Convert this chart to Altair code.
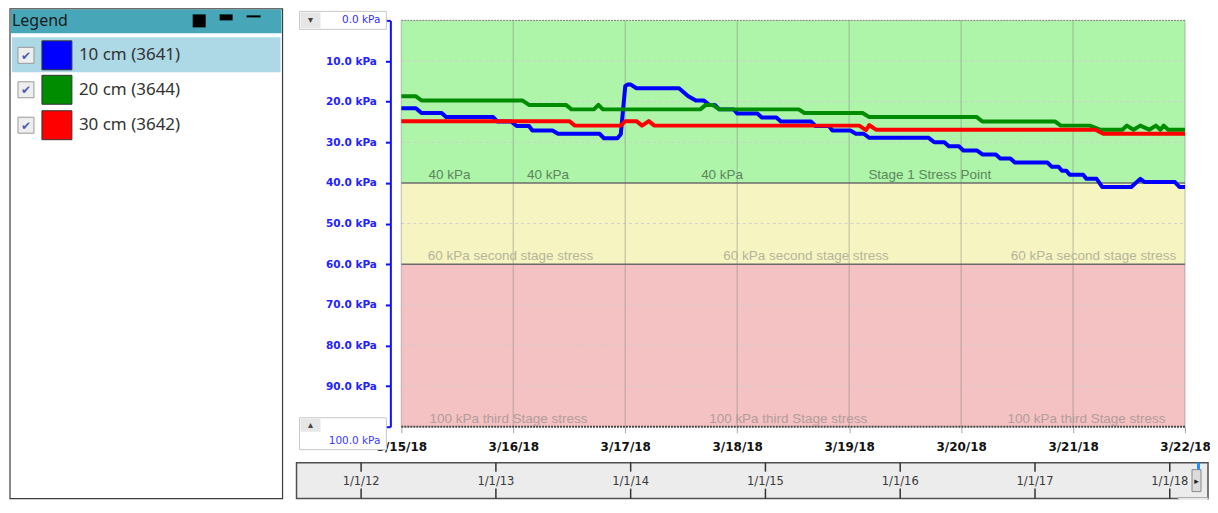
import altair as alt
import pandas as pd

start = pd.Timestamp("2018-03-15")

# ---------------- data ----------------
series_names = ["10 cm (3641)", "20 cm (3644)", "30 cm (3642)"]
series_colors = ["#0000ff", "#008c00", "#ff0000"]

blue_days = [0, 0.13, 0.18, 0.36, 0.40, 0.82, 0.86, 0.98, 1.03, 1.14, 1.17, 1.35, 1.40, 1.77,
             1.81, 1.93, 1.96, 2.00, 2.02, 2.05, 2.10, 2.48, 2.56, 2.63, 2.70, 2.75, 2.80,
             2.84, 2.97, 3.00, 3.18, 3.22, 3.35, 3.39, 3.66, 3.70, 3.82, 3.85, 4.01, 4.06,
             4.13, 4.18, 4.71, 4.76, 4.85, 4.89, 4.98, 5.02, 5.14, 5.19, 5.31, 5.35, 5.44,
             5.48, 5.77, 5.81, 5.87, 5.90, 5.94, 5.97, 6.09, 6.12, 6.21, 6.26, 6.52, 6.60,
             6.64, 6.91, 6.95, 7.0]
blue_kpa = [21.6, 21.6, 22.8, 22.8, 23.8, 23.8, 24.9, 24.9, 26.0, 26.0, 27.1, 27.1, 27.9, 27.9,
            29.0, 29.0, 28.0, 16.2, 15.8, 15.8, 16.7, 16.7, 18.6, 19.7, 19.7, 20.8, 20.8,
            21.9, 21.9, 22.9, 22.9, 23.9, 23.9, 24.9, 24.9, 26.0, 26.0, 27.1, 27.1, 27.9,
            27.9, 28.9, 28.9, 30.0, 30.0, 31.0, 31.0, 32.0, 32.0, 33.0, 33.0, 34.0, 34.0,
            35.0, 35.0, 36.0, 36.0, 37.0, 37.0, 38.0, 38.0, 39.0, 39.0, 41.0, 41.0, 39.0,
            39.8, 39.8, 41.0, 41.0]

green_days = [0, 0.13, 0.18, 1.08, 1.14, 1.47, 1.52, 1.72, 1.76, 1.80, 2.67, 2.72, 2.78, 2.84,
              3.55, 3.60, 4.12, 4.18, 5.14, 5.19, 5.84, 5.89, 6.15, 6.24, 6.44, 6.48, 6.54,
              6.60, 6.68, 6.74, 6.78, 6.81, 6.85, 7.0]
green_kpa = [18.7, 18.7, 19.7, 19.7, 20.8, 20.8, 21.9, 21.9, 20.8, 21.9, 21.9, 20.8, 20.8, 21.9,
             21.9, 22.8, 22.8, 23.8, 23.8, 24.9, 24.9, 25.9, 25.9, 26.9, 26.9, 25.9, 26.9,
             25.9, 26.9, 25.9, 26.9, 25.9, 26.9, 26.9]

red_days = [0, 1.50, 1.55, 1.96, 2.00, 2.10, 2.15, 2.21, 2.26, 4.09, 4.15, 4.18, 4.24, 6.20,
            6.27, 7.0]
red_kpa = [24.8, 24.8, 25.9, 25.9, 24.8, 24.8, 25.9, 24.8, 25.9, 25.9, 27.0, 25.8, 26.9, 26.9,
           27.9, 27.9]

zone_lo = [0, 40, 60]
zone_hi = [40, 60, 100]
zone_colors = ["#aef5aa", "#f6f5c1", "#f4c2c2"]

grid_kpa = [10, 20, 30, 50, 70, 80, 90]
grid_days = [0, 1, 2, 3, 4, 5, 6, 7]

zl_text = ["40 kPa", "40 kPa", "40 kPa", "Stage 1 Stress Point",
           "60 kPa second stage stress", "60 kPa second stage stress", "60 kPa second stage stress",
           "100 kPa third Stage stress", "100 kPa third Stage stress", "100 kPa third Stage stress"]
zl_days = [0.43, 1.31, 2.865, 4.72, 0.975, 3.615, 6.183, 0.957, 3.455, 6.12]
zl_kpa = [40, 40, 40, 40, 60, 60, 60, 100, 100, 100]
zl_color = ["#5b865b"] * 4 + ["#b5b49c"] * 3 + ["#b39c9c"] * 3

nav_years = [2012, 2013, 2014, 2015, 2016, 2017, 2018]
nav_labels = ["1/1/12", "1/1/13", "1/1/14", "1/1/15", "1/1/16", "1/1/17", "1/1/18"]

# ---------------- helpers ----------------
def ts(d):
    return (start + pd.Timedelta(days=d)).strftime("%Y-%m-%dT%H:%M:%S")


def series_df(name, days, vals):
    return pd.DataFrame({"series": name, "time": [ts(d) for d in days],
                         "kpa": vals, "order": list(range(len(days)))})


lines_df = pd.concat([series_df(series_names[0], blue_days, blue_kpa),
                      series_df(series_names[1], green_days, green_kpa),
                      series_df(series_names[2], red_days, red_kpa)], ignore_index=True)

zones_df = pd.DataFrame({"lo": zone_lo, "hi": zone_hi, "c": zone_colors,
                         "t0": ts(0), "t1": ts(7)})
zl_df = pd.DataFrame({"text": zl_text, "time": [ts(d) for d in zl_days],
                      "kpa": zl_kpa, "c": zl_color})

W, H = 785, 407

xscale = alt.Scale(domain=[alt.DateTime(year=2018, month=3, date=15),
                           alt.DateTime(year=2018, month=3, date=22)], nice=False)
yscale = alt.Scale(domain=[0, 100], reverse=True, nice=False, zero=False)

one = pd.DataFrame({"a": [0]})


def rect(x1, x2, y1, y2, fill, stroke=None, sw=0):
    kw = dict(color=fill)
    if stroke:
        kw.update(stroke=stroke, strokeWidth=sw)
    return alt.Chart(one).mark_rect(**kw).encode(
        x=alt.value(x1), x2=alt.value(x2), y=alt.value(y1), y2=alt.value(y2))


def text(txt, x, y, size, color, font="Noto Sans", align="left", weight="normal"):
    return alt.Chart(pd.DataFrame({"t": [txt]})).mark_text(
        align=align, baseline="middle", font=font, fontSize=size, color=color,
        fontWeight=weight).encode(text="t:N", x=alt.value(x), y=alt.value(y))


# ---------------- plot layers ----------------
zones = alt.Chart(zones_df).mark_rect().encode(
    x=alt.X("t0:T", scale=xscale,
            axis=alt.Axis(values=[alt.DateTime(year=2018, month=3, date=d) for d in range(15, 23)],
                          format="%-m/%-d/%y", title=None, grid=False, domain=False,
                          labelFont="DejaVu Sans", labelFontWeight="bold", labelFontSize=12,
                          labelColor="#111111", tickColor="#a8a8a8", tickSize=6, tickWidth=1,
                          labelPadding=9, labelFlush=False, labelOverlap=False)),
    x2="t1:T",
    y=alt.Y("lo:Q", scale=yscale,
            axis=alt.Axis(values=list(range(0, 101, 10)),
                          labelExpr="datum.value == 0 || datum.value == 100 ? '' : format(datum.value, '.1f') + ' kPa'",
                          title=None, grid=False, offset=11, domainColor="#1010ff",
                          domainWidth=2, tickColor="#1010ff", tickWidth=2, tickSize=5,
                          labelColor="#2222ff", labelFont="DejaVu Sans", labelFontWeight="bold",
                          labelFontSize=10.5, labelPadding=9)),
    y2="hi:Q",
    color=alt.Color("c:N", scale=None),
)

hgrid = alt.Chart(pd.DataFrame({"kpa": grid_kpa})).mark_rule(
    color="#cfcfcf", strokeWidth=1, strokeDash=[3, 3]).encode(
    y=alt.Y("kpa:Q", scale=yscale), x=alt.value(0), x2=alt.value(W))

vgrid = alt.Chart(pd.DataFrame({"time": [ts(d) for d in grid_days]})).mark_rule(
    color="#808080", strokeWidth=1.5, opacity=0.35).encode(
    x=alt.X("time:T", scale=xscale), y=alt.value(0), y2=alt.value(H))

thr_solid = alt.Chart(pd.DataFrame({"kpa": [40, 60]})).mark_rule(
    color="#6b6b6b", strokeWidth=1.5).encode(
    y=alt.Y("kpa:Q", scale=yscale), x=alt.value(0), x2=alt.value(W))
thr_top = alt.Chart(pd.DataFrame({"kpa": [0]})).mark_rule(
    color="#777777", strokeWidth=1, strokeDash=[2, 1]).encode(
    y=alt.Y("kpa:Q", scale=yscale), x=alt.value(0), x2=alt.value(W))
thr_bot = alt.Chart(pd.DataFrame({"kpa": [100]})).mark_rule(
    color="#444444", strokeWidth=2, strokeDash=[2, 1]).encode(
    y=alt.Y("kpa:Q", scale=yscale), x=alt.value(0), x2=alt.value(W))

zone_labels = alt.Chart(zl_df).mark_text(
    font="Liberation Sans", fontSize=13.5, baseline="alphabetic", dy=-4, align="center").encode(
    x=alt.X("time:T", scale=xscale), y=alt.Y("kpa:Q", scale=yscale),
    text="text:N", color=alt.Color("c:N", scale=None))

lines = alt.Chart(lines_df).mark_line(strokeWidth=4, strokeJoin="round", strokeCap="butt").encode(
    x=alt.X("time:T", scale=xscale),
    y=alt.Y("kpa:Q", scale=yscale),
    color=alt.Color("series:N", scale=alt.Scale(domain=series_names, range=series_colors),
                    legend=None),
    order="order:Q",
)

# y-axis end boxes (0.0 kPa / 100.0 kPa spinners)
top_box = [
    rect(-102, -15, -9, 9, "#ffffff", "#c8c8c8", 1),
    rect(-101, -81, -8, 8, "#e6e6e6"),
    text("▾", -91, 0, 10, "#444444", font="DejaVu Sans", align="center"),
    text("0.0 kPa", -21, 0, 10.5, "#3030ff", font="DejaVu Sans", align="right"),
]
bot_box = [
    rect(-102, -15, 398, 430, "#ffffff", "#c8c8c8", 1),
    rect(-101, -81, 399, 412, "#e6e6e6"),
    text("▴", -91, 405, 10, "#444444", font="DejaVu Sans", align="center"),
    text("100.0 kPa", -21, 421, 10.5, "#3a3aff", font="DejaVu Sans", align="right"),
]

# ---------------- legend panel ----------------
legend_layers = [
    rect(-392, -119, -11.5, 479, "#ffffff", "#3c3c3c", 1.2),
    rect(-391, -120, -11, 13, "#47a7b8"),
    text("Legend", -390, 0.5, 16, "#1a1a1a"),
    rect(-209, -196, -6, 7, "#000000"),
    rect(-182, -169, -6, 0, "#000000"),
    rect(-155, -141, -5, -3, "#000000"),
    rect(-390, -121, 17, 52, "#add8e6"),
]
row_y = [35, 69.5, 105]
for name, col, ry in zip(series_names, series_colors, row_y):
    legend_layers += [
        rect(-384, -368, ry - 8, ry + 8, "#eeeeee", "#9a9a9a", 1),
        text("✔", -376, ry + 0.5, 12, "#4a5cb0", font="DejaVu Sans", align="center"),
        rect(-360, -330, ry - 14.5, ry + 14.5, col, "#333333", 1),
        text(name, -323, ry, 17, "#333333"),
    ]

main = alt.layer(zones, hgrid, vgrid, thr_solid, thr_top, thr_bot, zone_labels, lines,
                 *top_box, *bot_box, *legend_layers)

# ---------------- navigator ----------------
nav_df = pd.DataFrame({"year": nav_years, "label": nav_labels})
nav_x = alt.X("year:Q", scale=alt.Scale(domain=[2012, 2018], range=[-40.3, 769.7]), axis=None)
nav_bg = rect(-105, 808, 443, 479, "#ececec", "#505050", 1.5)
nav_t1 = alt.Chart(nav_df).mark_rule(color="#333333", strokeWidth=1.5).encode(
    x=nav_x, y=alt.value(443), y2=alt.value(452))
nav_t2 = alt.Chart(nav_df).mark_rule(color="#333333", strokeWidth=1.5).encode(
    x=nav_x, y=alt.value(469), y2=alt.value(479))
nav_txt = alt.Chart(nav_df).mark_text(font="DejaVu Sans", fontSize=11.5, color="#3a3a3a",
                                      align="center", baseline="middle").encode(
    x=nav_x, y=alt.value(462), text="label:N")
nav_extra = [
    rect(792, 801, 450, 472, "#dcdcdc", "#8a8a8a", 1),
    text("▸", 796.5, 461, 9, "#222222", font="DejaVu Sans", align="center"),
    rect(797, 800, 443, 450, "#1e90ff"),
    rect(778, 808, 478, 484, "#eeeeee", "#aaaaaa", 1),
]
nav = alt.layer(nav_bg, nav_t1, nav_t2, nav_txt, *nav_extra)

chart = alt.layer(main, nav).resolve_scale(x="independent").properties(
    width=W, height=H,
    padding={"left": 394, "top": 12, "right": 25, "bottom": 73},
    autosize=alt.AutoSizeParams(type="none"),
).configure_view(stroke=None)

chart.save("out.html", embed_options={"renderer": "svg", "actions": False})
